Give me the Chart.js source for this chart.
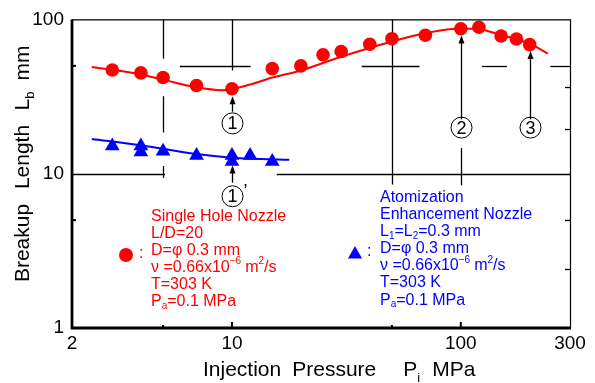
<!DOCTYPE html>
<html>
<head>
<meta charset="utf-8">
<script src="https://cdn.jsdelivr.net/npm/chart.js@4.4.0/dist/chart.umd.min.js"></script>
<style>
  html, body { margin: 0; padding: 0; background: #fff; }
  #wrap { width: 595px; height: 383px; }
</style>
</head>
<body>
<div id="wrap"><canvas id="chart" width="595" height="383"></canvas></div>
<script>
/* ============================================
   Breakup length vs injection pressure
   ============================================ */

// Single hole nozzle (red circles)
const singleP = [3, 4, 5, 7, 10, 15, 20, 25, 30, 40, 50, 70, 100, 120, 150, 175, 200];
const singleLb = [47, 45, 42, 37.3, 35.5, 48, 50, 59, 62, 69, 75, 79, 87, 89, 78, 74.6, 68.6];

// Atomization enhancement nozzle (blue triangles)
const enhP = [3, 4, 4, 5, 7, 10, 10, 12, 15];
const enhLb = [15.1, 15.1, 13.8, 14.0, 13.1, 13.1, 12.0, 13.1, 12.0];

// Fitted curves
const singleFitP = [2.44, 3, 4, 5, 7, 9, 12, 15, 20, 30, 50, 70, 100, 120, 150, 200, 240];
const singleFitLb = [49.2, 47.1, 44, 40.7, 36.3, 34.8, 37.8, 42, 46.7, 57.3, 72, 81.4, 87.3, 86.4, 79.4, 69.6, 60.1];
const enhFitP = [2.44, 4, 5, 7, 10, 15, 17.8];
const enhFitLb = [16.8, 15.3, 14.5, 13.4, 12.7, 12.4, 12.3];

// Axis ticks
const xTickValues = [2, 10, 100, 300];
const yTickValues = [1, 10, 100];

const FONT = "'Liberation Sans', Arial, sans-serif";
const RED = '#ff0000';
const BLUE = '#0000ff';

const toPoints = (xs, ys) => xs.map((x, i) => ({ x: x, y: ys[i] }));

/**
 * Draw text made of runs, some of them sub/superscript
 */
function drawRuns(ctx, runs, x, y, size) {
    let cx = x;
    runs.forEach(r => {
        const small = r.sub || r.sup;
        ctx.font = (small ? Math.round(size * 0.62) : size) + 'px ' + FONT;
        const dy = r.sub ? size * 0.28 : (r.sup ? -size * 0.38 : 0);
        ctx.fillText(r.t, cx, y + dy);
        cx += ctx.measureText(r.t).width + (r.gap || 0);
    });
}

function runsWidth(ctx, runs, size) {
    let w = 0;
    runs.forEach(r => {
        const small = r.sub || r.sup;
        ctx.font = (small ? Math.round(size * 0.62) : size) + 'px ' + FONT;
        w += ctx.measureText(r.t).width + (r.gap || 0);
    });
    return w;
}

// Decorations: broken grid, frame, arrows, labels
const decorPlugin = {
    id: 'decor',
    beforeDatasetsDraw(chart) {
        const { ctx } = chart;
        const sx = chart.scales.x, sy = chart.scales.y;
        ctx.save();
        ctx.strokeStyle = '#000';
        ctx.lineWidth = 1.3;
        // vertical broken lines [x, [yFrom, yTo], ...]
        const vert = [
            [5, [100, 55.6], [31.8, 18.5], [11.2, 9.4]],
            [10, [100, 46.7]],
            [50, [100, 8.5]],
            [100, [14.7, 8.4]]
        ];
        const horiz = [
            [50, [5.92, 12.06], [36.9, 66], [123.6, 159], [246, 300]],
            [10, [2, 5.1], [15.7, 300]]
        ];
        vert.forEach(v => {
            const x = Math.round(sx.getPixelForValue(v[0])) + 0.5;
            v.slice(1).forEach(s => {
                ctx.beginPath();
                ctx.moveTo(x, sy.getPixelForValue(s[0]));
                ctx.lineTo(x, sy.getPixelForValue(s[1]));
                ctx.stroke();
            });
        });
        horiz.forEach(h => {
            const y = Math.round(sy.getPixelForValue(h[0])) + 0.5;
            h.slice(1).forEach(s => {
                ctx.beginPath();
                ctx.moveTo(sx.getPixelForValue(s[0]), y);
                ctx.lineTo(sx.getPixelForValue(s[1]), y);
                ctx.stroke();
            });
        });
        ctx.restore();
    },
    afterDatasetsDraw(chart) {
        const { ctx } = chart;
        const sx = chart.scales.x, sy = chart.scales.y;
        ctx.save();
        // arrows: [x, tailY, tipY, circleY, label, prime]
        const arrows = [
            [10, 25.2, 31.8, 21.2, '1', false],
            [100, 22.5, 78.5, 19.9, '2', false],
            [200, 22.5, 62.5, 19.9, '3', false],
            [10, 8.75, 11.3, 7.14, '1', true]
        ];
        arrows.forEach(a => {
            const x = Math.round(sx.getPixelForValue(a[0])) + 0.5;
            const yTail = sy.getPixelForValue(a[1]);
            const yTip = sy.getPixelForValue(a[2]);
            const yc = sy.getPixelForValue(a[3]);
            ctx.strokeStyle = '#000';
            ctx.fillStyle = '#000';
            ctx.lineWidth = 1.3;
            ctx.beginPath();
            ctx.moveTo(x, yTail);
            ctx.lineTo(x, yTip + 6);
            ctx.stroke();
            ctx.beginPath();
            ctx.moveTo(x, yTip);
            ctx.lineTo(x - 3, yTip + 8);
            ctx.lineTo(x + 3, yTip + 8);
            ctx.closePath();
            ctx.fill();
            ctx.lineWidth = 1;
            ctx.beginPath();
            ctx.arc(x, yc, 10.5, 0, Math.PI * 2);
            ctx.stroke();
            ctx.font = '18px ' + FONT;
            ctx.textAlign = 'center';
            ctx.textBaseline = 'middle';
            ctx.fillText(a[4], x, yc + 1);
            if (a[5]) {
                ctx.textAlign = 'left';
                ctx.fillText('\u2019', x + 11, yc - 4);
            }
        });
        ctx.restore();
    },
    afterDraw(chart) {
        const { ctx, chartArea: ca } = chart;
        const sx = chart.scales.x, sy = chart.scales.y;
        ctx.save();
        // frame
        ctx.strokeStyle = '#000';
        ctx.lineWidth = 1.2;
        ctx.beginPath();
        ctx.moveTo(ca.left, ca.top + 0.5);
        ctx.lineTo(ca.right + 0.5, ca.top + 0.5);
        ctx.lineTo(ca.right + 0.5, ca.bottom);
        ctx.stroke();
        ctx.lineWidth = 2.8;
        ctx.beginPath();
        ctx.moveTo(ca.left, ca.top);
        ctx.lineTo(ca.left, ca.bottom);
        ctx.lineTo(ca.right + 1, ca.bottom);
        ctx.stroke();
        // small ticks
        ctx.lineWidth = 2;
        [5, 50].forEach(v => {
            const y = sy.getPixelForValue(v);
            ctx.beginPath(); ctx.moveTo(ca.left, y); ctx.lineTo(ca.left + 4, y); ctx.stroke();
        });
        [5, 50].forEach(v => {
            const x = sx.getPixelForValue(v);
            ctx.beginPath(); ctx.moveTo(x, ca.bottom); ctx.lineTo(x, ca.bottom - 3); ctx.stroke();
        });
        [10, 100].forEach(v => {
            const x = sx.getPixelForValue(v);
            ctx.beginPath(); ctx.moveTo(x, ca.bottom); ctx.lineTo(x, ca.bottom - 6); ctx.stroke();
        });
        ctx.lineWidth = 1.3;
        [36.3, 19.5, 5, 2.4].forEach(v => {
            const y = Math.round(sy.getPixelForValue(v)) + 0.5;
            ctx.beginPath(); ctx.moveTo(ca.right, y); ctx.lineTo(ca.right - 5, y); ctx.stroke();
        });

        // axis titles
        ctx.fillStyle = '#000';
        ctx.textAlign = 'left';
        ctx.textBaseline = 'alphabetic';
        drawRuns(ctx, [
            { t: 'Injection', gap: 11 },
            { t: 'Pressure', gap: 27 },
            { t: 'P' },
            { t: 'i', sub: true, gap: 12 },
            { t: 'MPa' }
        ], 203, 376, 21);

        // y title: each word centred where it sits in the figure
        const yWords = [
            [[{ t: 'Breakup' }], 243],
            [[{ t: 'Length' }], 157],
            [[{ t: 'L' }, { t: 'b', sub: true }], 101],
            [[{ t: 'mm' }], 63]
        ];
        yWords.forEach(w => {
            const wd = runsWidth(ctx, w[0], 21);
            ctx.save();
            ctx.translate(28.5, w[1] + wd / 2);
            ctx.rotate(-Math.PI / 2);
            drawRuns(ctx, w[0], 0, 0, 21);
            ctx.restore();
        });

        // legend blocks
        ctx.textBaseline = 'middle';
        const lineH = 17.1;
        const nuLine = [
            { t: '\u03bd =0.66x10' }, { t: '\u22126', sup: true, gap: 4 },
            { t: 'm' }, { t: '2', sup: true }, { t: '/s' }
        ];
        const paLine = [{ t: 'P' }, { t: 'a', sub: true }, { t: '=0.1 MPa' }];

        ctx.fillStyle = RED;
        const redLines = [
            [{ t: 'Single Hole Nozzle' }],
            [{ t: 'L/D=20' }],
            [{ t: 'D=\u03c6 0.3 mm' }],
            nuLine,
            [{ t: 'T=303 K' }],
            paLine
        ];
        redLines.forEach((runs, i) => drawRuns(ctx, runs, 151, 216.3 + i * lineH, 16));
        ctx.beginPath();
        ctx.arc(126, 255, 7, 0, Math.PI * 2);
        ctx.fill();
        ctx.font = '16px ' + FONT;
        ctx.fillText(':', 139, 254);

        ctx.fillStyle = BLUE;
        const blueLines = [
            [{ t: 'Atomization' }],
            [{ t: 'Enhancement Nozzle' }],
            [{ t: 'L' }, { t: '1', sub: true }, { t: '=L' }, { t: '2', sub: true }, { t: '=0.3 mm' }],
            [{ t: 'D=\u03c6 0.3 mm' }],
            nuLine,
            [{ t: 'T=303 K' }],
            paLine
        ];
        blueLines.forEach((runs, i) => drawRuns(ctx, runs, 380, 197.5 + i * lineH, 16));
        ctx.beginPath();
        ctx.moveTo(355, 246);
        ctx.lineTo(362, 258.5);
        ctx.lineTo(348, 258.5);
        ctx.closePath();
        ctx.fill();
        ctx.font = '16px ' + FONT;
        ctx.fillText(':', 367, 252);
        ctx.restore();
    }
};

const chart = new Chart(document.getElementById('chart'), {
    type: 'scatter',
    data: {
        datasets: [
            {
                label: 'Single fit',
                data: toPoints(singleFitP, singleFitLb),
                showLine: true,
                borderColor: RED,
                borderWidth: 2,
                pointRadius: 0,
                cubicInterpolationMode: 'monotone',
                order: 3
            },
            {
                label: 'Enhancement fit',
                data: toPoints(enhFitP, enhFitLb),
                showLine: true,
                borderColor: BLUE,
                borderWidth: 2,
                pointRadius: 0,
                cubicInterpolationMode: 'monotone',
                order: 3
            },
            {
                label: 'Single Hole Nozzle',
                data: toPoints(singleP, singleLb),
                pointStyle: 'circle',
                pointRadius: 6.8,
                backgroundColor: RED,
                borderWidth: 0,
                order: 1
            },
            {
                label: 'Atomization Enhancement Nozzle',
                data: toPoints(enhP, enhLb),
                pointStyle: 'triangle',
                pointRadius: 8.5,
                backgroundColor: BLUE,
                borderWidth: 0,
                order: 1
            }
        ]
    },
    options: {
        responsive: false,
        animation: false,
        events: [],
        layout: { padding: { top: 16, right: 25, left: 0, bottom: 0 } },
        plugins: {
            legend: { display: false },
            tooltip: { enabled: false }
        },
        scales: {
            x: {
                type: 'logarithmic',
                min: 2,
                max: 300,
                grid: { display: false, drawTicks: false },
                border: { display: false },
                afterBuildTicks: s => { s.ticks = xTickValues.map(v => ({ value: v })); },
                afterFit: s => { s.height = 55; },
                ticks: {
                    autoSkip: false,
                    maxRotation: 0,
                    padding: 4,
                    color: '#000',
                    font: { family: FONT, size: 19 },
                    callback: v => String(v)
                }
            },
            y: {
                type: 'logarithmic',
                min: 1,
                max: 100,
                grid: { display: false, drawTicks: false },
                border: { display: false },
                afterBuildTicks: s => { s.ticks = yTickValues.map(v => ({ value: v })); },
                afterFit: s => { s.width = 72; },
                ticks: {
                    autoSkip: false,
                    padding: 8,
                    color: '#000',
                    font: { family: FONT, size: 19 },
                    callback: v => String(v)
                }
            }
        }
    },
    plugins: [decorPlugin]
});
</script>
</body>
</html>
